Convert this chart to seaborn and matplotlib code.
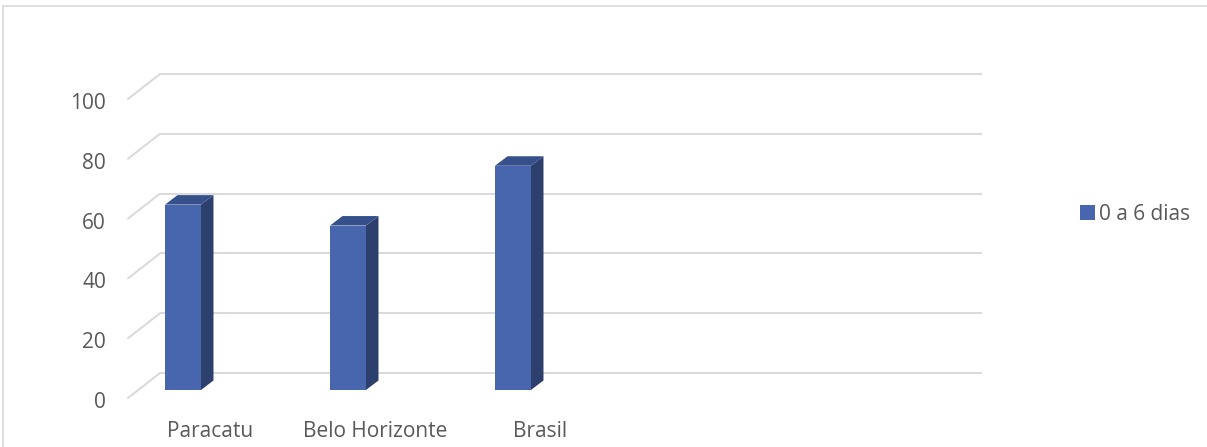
import matplotlib
matplotlib.use("Agg")
import matplotlib.pyplot as plt
import matplotlib.transforms as mtransforms
from matplotlib.lines import Line2D
from matplotlib.patches import Polygon
import pandas as pd
import seaborn as sns

# Data
locais = ["Paracatu", "Belo Horizonte", "Brasil"]
valores = [62, 55, 75]
serie = "0 a 6 dias"
y_ticks = [0, 20, 40, 60, 80, 100]

# Colours
FRONT = "#4866AE"
SIDE = "#2D3F6C"
TOP = "#36508C"
GRID = "#D9D9D9"
TEXT = "#595959"
FS = 15

sns.set_theme(style="white")
plt.rcParams["font.family"] = ["Open Sans", "DejaVu Sans"]

W, H, DPI = 1207, 447, 100
fig = plt.figure(figsize=(W / DPI, H / DPI), dpi=DPI)

# Axes holds the plane of the bars' front faces
left_px, right_px, bottom_px, top_px = 138, 960, 390, 91
ax = fig.add_axes([left_px / W, (H - bottom_px) / H,
                   (right_px - left_px) / W, (bottom_px - top_px) / H])

df = pd.DataFrame({"local": locais, "valor": valores, "serie": serie})
sns.barplot(data=df, x="local", y="valor", hue="serie", palette=[FRONT],
            saturation=1, width=0.218, ax=ax, zorder=3, linewidth=0)

x0, x1 = -45 / 165, 777 / 165
ax.set_xlim(x0, x1)
ax.set_ylim(0, 100)

# pixel -> data unit conversions
px_x = (x1 - x0) / (right_px - left_px)
px_y = 100 / (bottom_px - top_px)

# depth of the floor / back wall relative to the bars plane (pixels)
back_dx, back_dy = 22, 17
front_dx, front_dy = -10, -8
# depth of each column
bar_dx, bar_dy = 12.5, 9.5

for v in y_ticks:
    # back-wall gridline
    ax.plot([x0 + back_dx * px_x, x1 + back_dx * px_x],
            [v + back_dy * px_y, v + back_dy * px_y],
            color=GRID, lw=1.4, zorder=1, clip_on=False, solid_capstyle="butt")
    # side-wall diagonal
    ax.plot([x0 + front_dx * px_x, x0 + back_dx * px_x],
            [v + front_dy * px_y, v + back_dy * px_y],
            color=GRID, lw=1.4, zorder=1, clip_on=False)

ddx, ddy = bar_dx * px_x, bar_dy * px_y
for p in list(ax.patches):
    bx0 = p.get_x()
    bx1 = bx0 + p.get_width()
    h = p.get_height()
    side = Polygon([(bx1, 0), (bx1 + ddx, ddy), (bx1 + ddx, h + ddy), (bx1, h)],
                   closed=True, facecolor=SIDE, edgecolor="none", zorder=3,
                   clip_on=False)
    top = Polygon([(bx0, h), (bx0 + ddx, h + ddy), (bx1 + ddx, h + ddy), (bx1, h)],
                  closed=True, facecolor=TOP, edgecolor="none", zorder=3,
                  clip_on=False)
    ax.add_patch(side)
    ax.add_patch(top)

# Axis text
ax.set_xlabel("")
ax.set_ylabel("")
ax.set_yticks(y_ticks)
ax.set_yticklabels([str(t) for t in y_ticks])
ax.tick_params(axis="y", length=0, pad=23, labelsize=FS, labelcolor=TEXT)
ax.tick_params(axis="x", length=0, pad=22, labelsize=FS, labelcolor=TEXT)
for s in ax.spines.values():
    s.set_visible(False)

down = mtransforms.ScaledTranslation(0, -10 / DPI, fig.dpi_scale_trans)
for lab in ax.get_yticklabels():
    lab.set_transform(lab.get_transform() + down)
right = mtransforms.ScaledTranslation(27 / DPI, 0, fig.dpi_scale_trans)
for lab in ax.get_xticklabels():
    lab.set_transform(lab.get_transform() + right)

sns.move_legend(ax, loc="center left", bbox_to_anchor=(1080 / W, (H - 214) / H),
                bbox_transform=fig.transFigure, frameon=False, title=None,
                fontsize=FS, handlelength=0.7, handleheight=0.7,
                handletextpad=0.2, borderpad=0, borderaxespad=0)
for t in ax.get_legend().get_texts():
    t.set_color(TEXT)

# Chart frame (top and left edges)
fig.add_artist(Line2D([3 / W, 1.0], [(H - 6) / H] * 2, transform=fig.transFigure,
                      color=GRID, lw=1.2))
fig.add_artist(Line2D([3 / W] * 2, [0.0, (H - 6) / H], transform=fig.transFigure,
                      color=GRID, lw=1.2))

fig.savefig("out.png", dpi=DPI, facecolor="white")
